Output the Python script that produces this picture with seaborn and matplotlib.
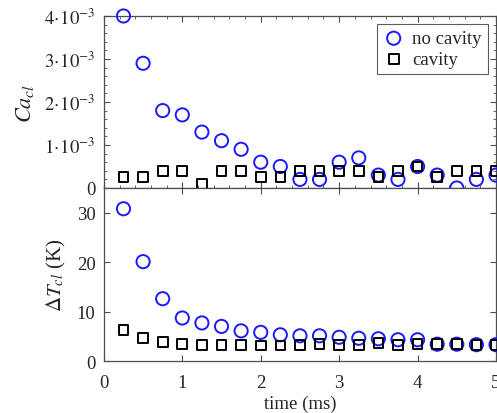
import matplotlib
matplotlib.use('Agg')
import matplotlib.pyplot as plt
import seaborn as sns
import numpy as np
from matplotlib.ticker import AutoMinorLocator, FuncFormatter

# data
time_ms = [0.25, 0.5, 0.75, 1.0, 1.25, 1.5, 1.75, 2.0, 2.25, 2.5,
           2.75, 3.0, 3.25, 3.5, 3.75, 4.0, 4.25, 4.5, 4.75, 5.0]
ca_nocav = [4.0, 2.9, 1.8, 1.7, 1.3, 1.1, 0.9, 0.6, 0.5, 0.2,
            0.2, 0.6, 0.7, 0.3, 0.2, 0.5, 0.3, 0.0, 0.2, 0.3]  # x1e-3
ca_cav = [0.25, 0.25, 0.4, 0.4, 0.1, 0.4, 0.4, 0.25, 0.25, 0.4,
          0.4, 0.4, 0.4, 0.25, 0.4, 0.5, 0.25, 0.4, 0.4, 0.4]  # x1e-3
dT_nocav = [30.8, 20.1, 12.6, 8.7, 7.7, 7.0, 6.1, 5.8, 5.3, 5.1,
            5.1, 4.8, 4.6, 4.5, 4.3, 4.3, 3.4, 3.4, 3.3, 3.3]
dT_cav = [6.3, 4.6, 3.8, 3.4, 3.2, 3.2, 3.2, 3.1, 3.1, 3.3,
          3.4, 3.3, 3.3, 3.6, 3.3, 3.4, 3.5, 3.4, 3.3, 3.3]

sns.set_style('ticks')
plt.rcParams['font.family'] = ['Liberation Serif', 'DejaVu Serif']
plt.rcParams['mathtext.fontset'] = 'stix'
plt.rcParams['xtick.direction'] = 'in'
plt.rcParams['ytick.direction'] = 'in'
text_c = '0.15'
spine_c = '0.3'

fig = plt.figure(figsize=(4.97, 4.14), dpi=100)
ax1 = fig.add_axes([0.209, 0.5435, 0.789, 0.4155])
ax2 = fig.add_axes([0.209, 0.1256, 0.789, 0.4179])

ca_n = np.array(ca_nocav) * 1e-3
ca_c = np.array(ca_cav) * 1e-3

blue = '#1a1aff'
sns.scatterplot(x=time_ms, y=ca_n, ax=ax1, marker='o', s=90, color='none',
                edgecolor=blue, linewidth=1.4, label='no cavity', clip_on=False, zorder=3)
sns.scatterplot(x=time_ms, y=ca_c, ax=ax1, marker='s', s=48, color='none',
                edgecolor='black', linewidth=1.4, label='cavity', clip_on=False, zorder=3)
sns.scatterplot(x=time_ms, y=dT_nocav, ax=ax2, marker='o', s=90, color='none',
                edgecolor=blue, linewidth=1.4, clip_on=False, zorder=3)
sns.scatterplot(x=time_ms, y=dT_cav, ax=ax2, marker='s', s=48, color='none',
                edgecolor='black', linewidth=1.4, clip_on=False, zorder=3)

for ax in (ax1, ax2):
    ax.set_xlim(0, 5)
    ax.set_xticks([0, 1, 2, 3, 4, 5])
    ax.tick_params(top=True, right=True, colors=spine_c, labelcolor=text_c,
                   labelsize=13.5, length=4, width=0.8)
    ax.tick_params(axis='y', pad=6)
    ax.tick_params(axis='x', pad=9)
    ax.tick_params(which='minor', top=True, right=True, colors=spine_c, length=2, width=0.6)
    for s in ax.spines.values():
        s.set_visible(True)
        s.set_color(spine_c)
        s.set_linewidth(0.9)

ax1.set_ylim(0, 4e-3)
ax1.set_yticks([0, 1e-3, 2e-3, 3e-3, 4e-3])
ax1.yaxis.set_major_formatter(FuncFormatter(
    lambda v, p: '0' if abs(v) < 1e-9 else r'$%d\!\cdot\!10^{-3}$' % round(v * 1e3)))
ax1.xaxis.set_minor_locator(AutoMinorLocator(5))
ax1.yaxis.set_minor_locator(AutoMinorLocator(5))
ax1.set_xticklabels([])
ax1.set_xlabel('')
ax1.set_ylabel(r'$Ca_{cl}$', fontsize=16, color=text_c, labelpad=6)

ax2.set_ylim(0, 35)
ax2.set_yticks([0, 10, 20, 30])
ax2.set_xlabel('time (ms)', fontsize=13.5, color=text_c, labelpad=3)
ax2.set_ylabel(r'$\Delta T_{cl}$ (K)', fontsize=15, color=text_c, labelpad=6)

leg = ax1.legend(loc='upper right', fontsize=13.5, frameon=True, fancybox=False,
                 handletextpad=0.4, borderpad=0.3, labelspacing=0.2,
                 handlelength=1.2, borderaxespad=0.45)
leg.get_frame().set_edgecolor('0.2')
leg.get_frame().set_linewidth(0.8)
for t in leg.get_texts():
    t.set_color(text_c)

fig.savefig('out.png', dpi=100)
